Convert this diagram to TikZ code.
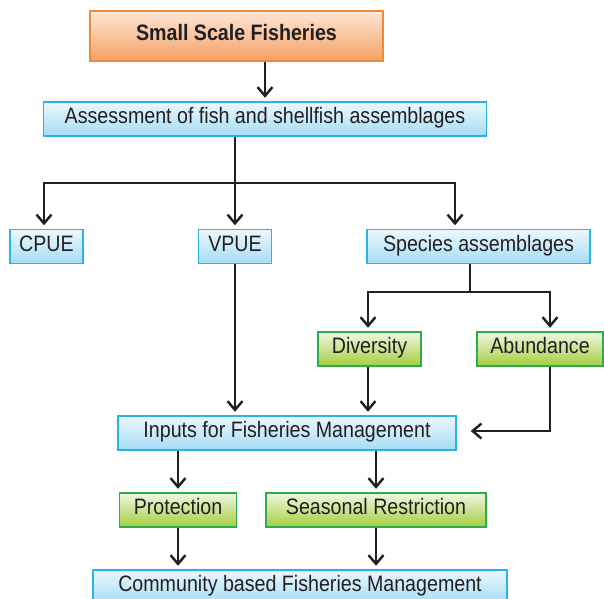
\documentclass[tikz,border=0pt]{standalone}
\usepackage{fontspec}
\setmainfont{Liberation Sans}[FakeStretch=0.88]
\usepackage{xcolor}
\usepackage{tikz}
\usetikzlibrary{arrows.meta,positioning}
\definecolor{ink}{RGB}{35,31,32}
\definecolor{peachtop}{RGB}{253,231,214}
\definecolor{peachbot}{RGB}{245,160,100}
\definecolor{peachline}{RGB}{240,136,58}
\definecolor{skytop}{RGB}{236,248,253}
\definecolor{skybot}{RGB}{165,220,245}
\definecolor{skyline}{RGB}{40,180,232}
\definecolor{leaftop}{RGB}{240,246,226}
\definecolor{leafbot}{RGB}{164,206,62}
\definecolor{leafline}{RGB}{45,172,78}

\begin{document}
\begin{tikzpicture}[x=0.02cm, y=-0.02cm,
  every node/.style={font=\fontsize{12.7}{14}\selectfont, text=ink, inner sep=0pt,
    text height=0.74em, text depth=0.2em},
  topbox/.style={draw=peachline, line width=0.8pt, top color=peachtop, bottom color=peachbot,
    minimum height=1.0cm, font=\fontsize{12.7}{14}\selectfont\bfseries},
  bluebox/.style={draw=skyline, line width=0.8pt, top color=skytop, bottom color=skybot,
    minimum height=0.68cm},
  greenbox/.style={draw=leafline, line width=0.8pt, top color=leaftop, bottom color=leafbot,
    minimum height=0.68cm},
  link/.style={draw=ink, line width=1.4pt},
  arr/.style={link, -{Straight Barb[length=5pt,width=8.5pt,line width=1.4pt]}, shorten >=2pt}]
\clip (0,0) rectangle (604,598);
\useasboundingbox (0,0) rectangle (604,598);
% ---- top
\node[topbox, minimum width=5.86cm] (ssf) at (236.5,36) {Small Scale Fisheries};
\node[bluebox, minimum width=8.86cm] (assess) at (265,119) {Assessment of fish and shellfish assemblages};
\draw[arr] (ssf.south -| assess) -- (assess);
% ---- first split
\node[bluebox, minimum width=1.46cm] (cpue) at (46.5,246.5) {CPUE};
\node[bluebox, minimum width=1.46cm] (vpue) at (235,246.5) {VPUE};
\node[bluebox, minimum width=4.46cm] (species) at (478.5,246.5) {Species assemblages};
\coordinate (split1) at (235,183);
\coordinate (spec-in) at (455,183);
\draw[link] (assess.south -| split1) -- (split1);
\draw[arr] (split1) -| (cpue.north -| 44,0);
\draw[arr] (split1) -- (vpue);
\draw[arr] (split1) -- (spec-in) -- (species.north -| spec-in);
% ---- species split
\node[greenbox, minimum width=2.06cm] (diversity) at (369.5,349) {Diversity};
\node[greenbox, minimum width=2.52cm] (abund) at (540,349) {Abundance};
\coordinate (split2) at (470,292);
\coordinate (div-in) at (368,292);
\coordinate (abund-in) at (550,292);
\draw[link] (species.south -| split2) -- (split2);
\draw[arr] (split2) -- (div-in) -- (diversity.north -| div-in);
\draw[arr] (split2) -- (abund-in) -- (abund.north -| abund-in);
% ---- inputs
\node[bluebox, minimum width=6.76cm] (inputs) at (287,433) {Inputs for Fisheries Management};
\coordinate (abund-turn) at (550,431);
\draw[arr] (vpue) -- (vpue |- inputs.north);
\draw[arr] (diversity.south -| div-in) -- (inputs.north -| div-in);
\draw[arr, shorten >=8pt] (abund.south -| abund-turn) -- (abund-turn) -- (abund-turn -| inputs.east);
% ---- measures
\node[greenbox, minimum width=2.34cm] (prot) at (178,510) {Protection};
\node[greenbox, minimum width=4.4cm] (season) at (376,510) {Seasonal Restriction};
\draw[arr] (inputs.south -| prot) -- (prot);
\draw[arr] (inputs.south -| season) -- (season);
% ---- bottom
\node[bluebox, minimum width=8.28cm] (comm) at (300,587) {Community based Fisheries Management};
\draw[arr] (prot) -- (prot |- comm.north);
\draw[arr] (season) -- (season |- comm.north);
\end{tikzpicture}
\end{document}
